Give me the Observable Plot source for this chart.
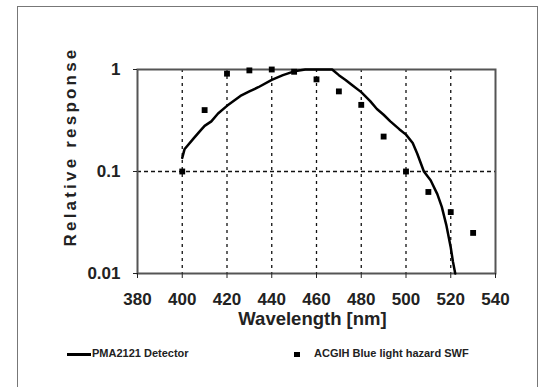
<!DOCTYPE html>
<html>
<head>
<meta charset="utf-8">
<script src="https://cdn.jsdelivr.net/npm/d3@7"></script>
<script src="https://cdn.jsdelivr.net/npm/@observablehq/plot@0.6"></script>
<style>
html, body { margin: 0; padding: 0; background: #fff; overflow: hidden; width: 548px; height: 387px; }
#wrap { position: relative; width: 548px; height: 387px; }
#border { position: absolute; left: 17px; top: 6px; width: 521px; height: 420px; border: 1.5px solid #777; box-sizing: border-box; }
#chart { position: absolute; left: 0; top: 0; }
.leg { position: absolute; top: 347px; height: 14px; line-height: 14px; font: bold 11px "Liberation Sans", Arial, sans-serif; color: #222; white-space: nowrap; }
.leg .line { display: inline-block; width: 24px; height: 3px; background: #000; vertical-align: middle; margin-right: 1px; }
.leg .sq { display: inline-block; width: 6px; height: 5px; background: #000; vertical-align: middle; margin-right: 14px; }
</style>
</head>
<body>
<div id="wrap">
  <div id="border"></div>
  <div id="chart"></div>
  <div class="leg" style="left:67px"><span class="line"></span><span id="leg1"></span></div>
  <div class="leg" style="left:294px"><span class="sq"></span><span id="leg2"></span></div>
</div>
<script>
// ---- data ----
const acgihWl  = [400, 410, 420, 430, 440, 450, 460, 470, 480, 490, 500, 510, 520, 530];
const acgihVal = [0.1, 0.40, 0.91, 0.98, 1.0, 0.95, 0.80, 0.61, 0.45, 0.22, 0.10, 0.063, 0.040, 0.025];

const pmaWl  = [400, 401, 405, 408, 410, 413, 416, 420, 426, 430, 434, 440, 445, 450, 455, 460, 467, 470, 473, 476, 480, 484, 487, 490, 493, 497, 500, 503, 505, 508, 511, 514, 516, 518, 520, 521, 522];
const pmaVal = [0.136, 0.165, 0.21, 0.25, 0.28, 0.31, 0.37, 0.44, 0.55, 0.61, 0.67, 0.79, 0.88, 0.96, 1.0, 1.0, 1.0, 0.88, 0.79, 0.70, 0.60, 0.49, 0.41, 0.36, 0.31, 0.26, 0.23, 0.19, 0.15, 0.10, 0.082, 0.06, 0.045, 0.03, 0.018, 0.013, 0.01];

const xTicks = [380, 400, 420, 440, 460, 480, 500, 520, 540];
const xGrid  = [400, 420, 440, 460, 480, 500, 520];
const yTicks = [0.01, 0.1, 1];
const yGrid  = [0.1];
const xLabel = "Wavelength [nm]";
const yLabel = "Relative response";
const series1 = "PMA2121 Detector";
const series2 = "ACGIH Blue light hazard SWF";

const acgih = acgihWl.map((w, i) => ({wl: w, v: acgihVal[i]}));
const pma = pmaWl.map((w, i) => ({wl: w, v: pmaVal[i]}));

const font = "Liberation Sans, Arial, sans-serif";
const chart = Plot.plot({
  width: 548,
  height: 335,
  marginLeft: 137,
  marginRight: 53,
  marginTop: 69,
  marginBottom: 62,
  style: {fontFamily: font, color: "#222", background: "transparent", overflow: "visible"},
  x: {domain: [380, 540]},
  y: {type: "log", domain: [0.01, 1]},
  marks: [
    Plot.ruleX(xGrid, {stroke: "#111", strokeWidth: 1.3, strokeDasharray: "3,4"}),
    Plot.ruleY(yGrid, {stroke: "#111", strokeWidth: 1.3, strokeDasharray: "4,3"}),
    Plot.frame({stroke: "#555", strokeWidth: 2}),
    Plot.axisX({ticks: xTicks, tickSize: 5, tickPadding: 14, fontSize: 17, fontWeight: "bold", label: null, tickFormat: d => String(d)}),
    Plot.axisY({ticks: yTicks, tickSize: 4, tickPadding: 13, fontSize: 17, fontWeight: "bold", label: null, tickFormat: d => String(d)}),
    Plot.line(pma, {x: "wl", y: "v", stroke: "#000", strokeWidth: 2.5}),
    Plot.dot(acgih, {x: "wl", y: "v", symbol: "square", r: 3.3, fill: "#000", stroke: null}),
    Plot.text([xLabel], {text: d => d, frameAnchor: "bottom", lineAnchor: "middle", dy: 46, dx: -4, fontSize: 18.5, fontWeight: "bold"}),
    Plot.text([yLabel], {text: d => d, frameAnchor: "left", textAnchor: "middle", rotate: -90, dx: -67, dy: -25, fontSize: 17, fontWeight: "bold"})
  ]
});
d3.select(chart).selectAll("text").filter(function() { return this.textContent === yLabel; })
  .attr("letter-spacing", "3.2px");
document.getElementById("chart").appendChild(chart);
document.getElementById("leg1").textContent = series1;
document.getElementById("leg2").textContent = series2;
</script>
</body>
</html>
